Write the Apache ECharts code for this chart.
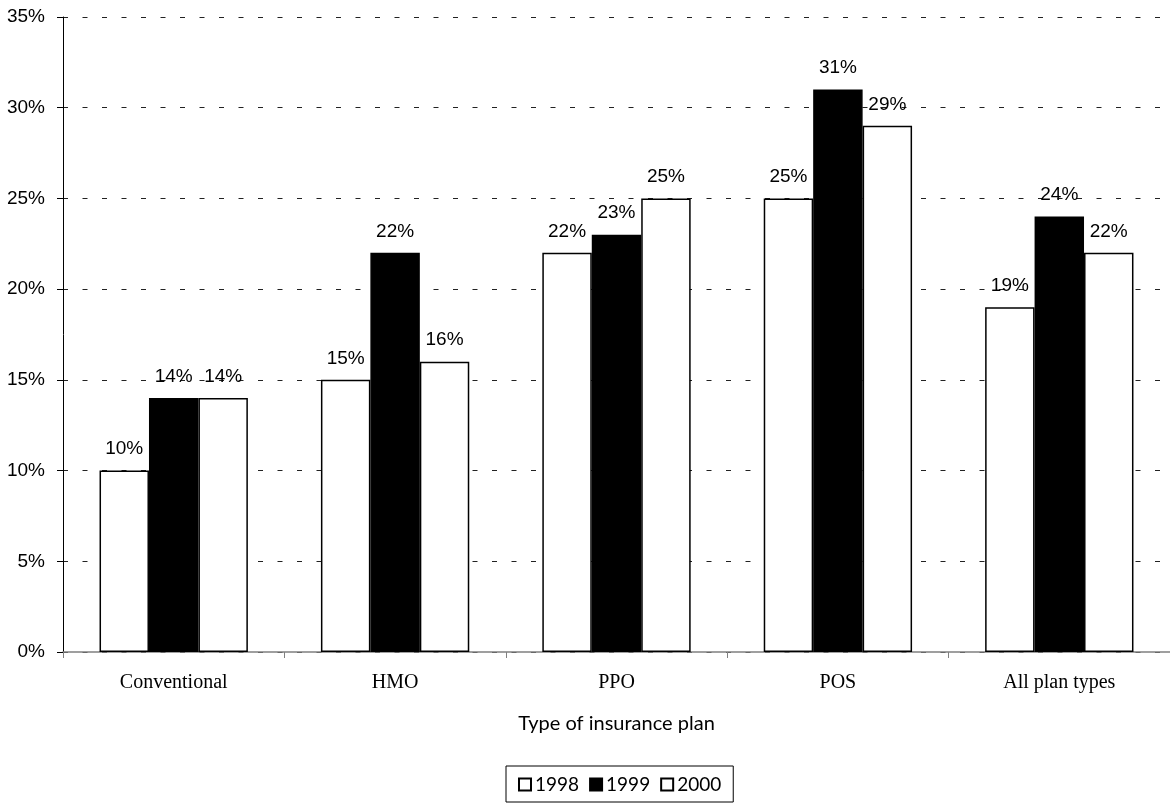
<!DOCTYPE html>
<html><head><meta charset="utf-8">
<script src="https://cdn.jsdelivr.net/npm/echarts@6/dist/echarts.min.js"></script>
<style>html,body{margin:0;padding:0;background:#fff}#c{width:1170px;height:803px}</style>
</head><body><div id="c"></div>
<script>
const categories = ['Conventional','HMO','PPO','POS','All plan types'];
const years = ['1998','1999','2000'];
const v1998 = [10,15,22,25,19];
const v1999 = [14,22,23,31,24];
const v2000 = [14,16,25,29,22];
const yTicks = [0,5,10,15,20,25,30,35];

const chart = echarts.init(document.getElementById('c'));
const fills = ['#ffffff','#000000','#ffffff'];
const data = [v1998, v1999, v2000];
chart.setOption({
  animation:false,
  grid:{left:63, right:-3, top:17, bottom:151, containLabel:false},
  legend:{
    data:years, left:506, top:766,
    padding:[9,12,8,12], itemGap:10, itemWidth:12, itemHeight:12,
    borderColor:'#000', borderWidth:1, icon:'rect',
    textStyle:{fontFamily:'Lato', fontSize:19, color:'#000', padding:[0,0,0,-1]}
  },
  xAxis:{
    type:'category', data:categories,
    name:'Type of insurance plan', nameLocation:'middle', nameGap:62,
    nameTextStyle:{fontFamily:'Lato', fontSize:20, color:'#000'},
    axisLine:{lineStyle:{color:'#808080', width:1.5}},
    axisTick:{show:true, length:6, lineStyle:{color:'#808080'}},
    axisLabel:{fontFamily:'Liberation Serif', fontSize:20, color:'#000', margin:21},
    splitLine:{show:false}
  },
  yAxis:{
    type:'value', min:yTicks[0], max:yTicks[yTicks.length-1], interval:5,
    axisLine:{show:true, lineStyle:{color:'#000', width:1}},
    axisTick:{show:true, length:6, lineStyle:{color:'#000'}},
    axisLabel:{formatter:'{value}%', fontFamily:'Liberation Sans', fontSize:19, color:'#000', margin:18},
    splitLine:{show:true, lineStyle:{color:'#222', width:1, type:[5,14.5]}}
  },
  series: years.map((y,i)=>({
    name:y, type:'bar', data:data[i],
    barGap:'0%', barCategoryGap:'33%',
    itemStyle:{color:fills[i], borderColor:'#000', borderWidth:1.5},
    label:{show:true, position:'top', distance:12, formatter:'{c}%',
      fontFamily:'Liberation Sans', fontSize:19, color:'#000'}
  }))
});
</script></body></html>
